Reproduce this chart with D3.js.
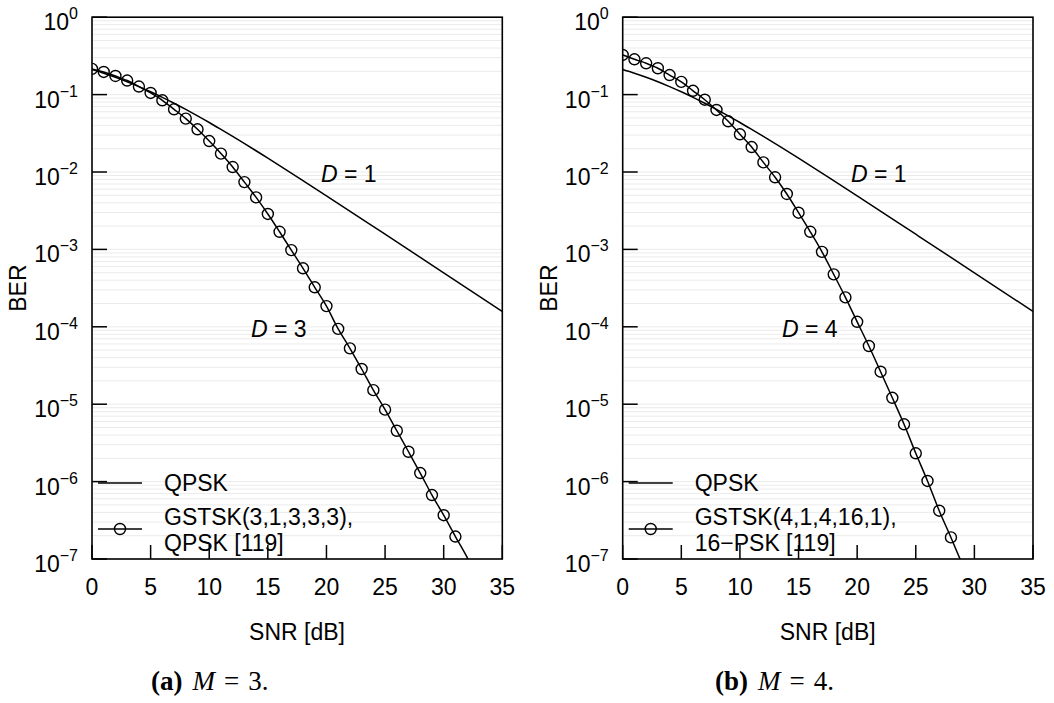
<!DOCTYPE html>
<html>
<head>
<meta charset="utf-8">
<script src="https://cdn.jsdelivr.net/npm/d3@7"></script>
<style>
  html, body { margin: 0; padding: 0; background: #fff; }
  svg { display: block; }
  text { font-family: "Liberation Sans", Arial, Helvetica, sans-serif; fill: #000; }
  .cap { font-family: "Liberation Serif", "Times New Roman", serif; }
</style>
</head>
<body>
<svg id="chart" width="1054" height="703"></svg>
<script>
// ---------------- data ----------------
const xTicks = [0, 5, 10, 15, 20, 25, 30, 35];
const yTickExps = [0, -1, -2, -3, -4, -5, -6, -7];

// QPSK (D = 1) reference curve, same in both panels
const qpskSnr = [0, 1, 2, 3, 4, 5, 6, 7, 8, 9, 10, 11, 12, 15, 17.5, 20, 25, 30, 35];
const qpskBer = [0.211, 0.189, 0.1675, 0.1467, 0.1269, 0.1087, 0.0921, 0.0773, 0.0643, 0.0531,
                 0.0436, 0.0355, 0.0288, 0.0151, 0.00866, 0.00493, 0.00157, 0.000499, 0.000158];

// Panel (a): GSTSK(3,1,3,3,3), QPSK [119]  (D = 3)
const gstskASnr = [0, 1, 2, 3, 4, 5, 6, 7, 8, 9, 10, 11, 12, 13, 14, 15, 16, 17, 18, 19, 20,
                   21, 22, 23, 24, 25, 26, 27, 28, 29, 30, 31];
const gstskABer = [0.215, 0.196, 0.174, 0.152, 0.127, 0.105, 0.0844, 0.0646, 0.049, 0.0356,
                   0.0251, 0.0173, 0.0116, 0.0074, 0.0047, 0.00287, 0.00169, 0.00098, 0.00057,
                   0.000324, 0.000185, 9.4e-5, 5.27e-5, 2.85e-5, 1.52e-5, 8.5e-6, 4.54e-6,
                   2.43e-6, 1.29e-6, 6.7e-7, 3.68e-7, 1.95e-7];
const gstskATailSnr = [32, 33];
const gstskATailBer = [1.05e-7, 5.4e-8];

// Panel (b): GSTSK(4,1,4,16,1), 16-PSK [119]  (D = 4)
const gstskBSnr = [0, 1, 2, 3, 4, 5, 6, 7, 8, 9, 10, 11, 12, 13, 14, 15, 16, 17, 18, 19, 20,
                   21, 22, 23, 24, 25, 26, 27, 28];
const gstskBBer = [0.325, 0.286, 0.254, 0.219, 0.179, 0.146, 0.112, 0.0859, 0.0633, 0.0452,
                   0.0307, 0.021, 0.0133, 0.00855, 0.0052, 0.00298, 0.00169, 0.00093, 0.000476,
                   0.00024, 0.000116, 5.65e-5, 2.63e-5, 1.21e-5, 5.5e-6, 2.32e-6, 1.02e-6,
                   4.21e-7, 1.9e-7];
const gstskBTailSnr = [29];
const gstskBTailBer = [8.3e-8];

const panels = [
  { id: "a", left: 92, snr: gstskASnr, ber: gstskABer, tailSnr: gstskATailSnr, tailBer: gstskATailBer,
    legend: ["GSTSK(3,1,3,3,3),", "QPSK [119]"], dLow: "3", caption: ["(a)", "M", "=", "3."],
    capX: 151, labD1: [321, 182], labD2: [251, 337] },
  { id: "b", left: 622.7, snr: gstskBSnr, ber: gstskBBer, tailSnr: gstskBTailSnr, tailBer: gstskBTailBer,
    legend: ["GSTSK(4,1,4,16,1),", "16\u2212PSK [119]"], dLow: "4", caption: ["(b)", "M", "=", "4."],
    capX: 715, labD1: [851, 182], labD2: [782, 337] }
];

// ---------------- drawing ----------------
const svg = d3.select("#chart");
const plotTop = 17.2, plotBottom = 559, plotW = 410.3;
const FS = 23;
const y = d3.scaleLog().domain([1e-7, 1]).range([plotBottom, plotTop]);

panels.forEach(p => {
  const x = d3.scaleLinear().domain([0, 35]).range([p.left, p.left + plotW]);
  const g = svg.append("g");

  // clip
  g.append("clipPath").attr("id", "clip" + p.id)
    .append("rect").attr("x", p.left).attr("y", plotTop).attr("width", plotW).attr("height", plotBottom - plotTop);

  // grid lines at every 1..9 x 10^k
  const gridVals = [];
  for (let e = -7; e < 0; e++) for (let m = 1; m <= 9; m++) gridVals.push(m * Math.pow(10, e));
  g.append("g").selectAll("line").data(gridVals).join("line")
    .attr("x1", p.left).attr("x2", p.left + plotW)
    .attr("y1", d => y(d)).attr("y2", d => y(d))
    .attr("stroke", "#ebebeb").attr("stroke-width", 1);

  // y ticks (inward, left side)
  g.append("g").selectAll("line").data(yTickExps).join("line")
    .attr("x1", p.left).attr("x2", p.left + 15)
    .attr("y1", d => y(Math.pow(10, d))).attr("y2", d => y(Math.pow(10, d)))
    .attr("stroke", "#000").attr("stroke-width", 1.5);
  // x ticks (inward, bottom)
  g.append("g").selectAll("line").data(xTicks).join("line")
    .attr("x1", d => x(d)).attr("x2", d => x(d))
    .attr("y1", plotBottom).attr("y2", plotBottom - 14)
    .attr("stroke", "#000").attr("stroke-width", 1.5);

  // y tick labels
  const yl = g.append("g").selectAll("text").data(yTickExps).join("text")
    .attr("x", p.left - 14).attr("y", d => y(Math.pow(10, d)) + 13)
    .attr("text-anchor", "end").attr("font-size", FS);
  yl.append("tspan").text("10");
  yl.append("tspan").attr("font-size", 16).attr("dy", -11)
    .text(d => d === 0 ? "0" : "\u2212" + Math.abs(d));

  // x tick labels
  g.append("g").selectAll("text").data(xTicks).join("text")
    .attr("x", d => x(d)).attr("y", 595)
    .attr("text-anchor", "middle").attr("font-size", FS)
    .text(d => d);

  // axis labels
  g.append("text").attr("transform", `translate(${p.left - 74},${(plotTop + plotBottom) / 2}) rotate(-90)`)
    .attr("text-anchor", "middle").attr("font-size", FS).attr("dy", "0.35em").text("BER");
  g.append("text").attr("x", p.left + 205).attr("y", 640)
    .attr("text-anchor", "middle").attr("font-size", FS).text("SNR [dB]");

  // curves
  const line = d3.line().x(d => x(d[0])).y(d => y(d[1])).curve(d3.curveMonotoneX);
  const cg = g.append("g").attr("clip-path", `url(#clip${p.id})`);
  cg.append("path").datum(qpskSnr.map((s, i) => [s, qpskBer[i]]))
    .attr("d", line).attr("fill", "none").attr("stroke", "#000").attr("stroke-width", 1.5);
  const gstskPts = p.snr.map((s, i) => [s, p.ber[i]])
    .concat(p.tailSnr.map((s, i) => [s, p.tailBer[i]]));
  cg.append("path").datum(gstskPts)
    .attr("d", line).attr("fill", "none").attr("stroke", "#000").attr("stroke-width", 1.5);
  cg.append("g").selectAll("circle").data(p.snr.map((s, i) => [s, p.ber[i]])).join("circle")
    .attr("cx", d => x(d[0])).attr("cy", d => y(d[1])).attr("r", 5.5)
    .attr("fill", "none").attr("stroke", "#000").attr("stroke-width", 1.4);

  // frame
  g.append("rect").attr("x", p.left).attr("y", plotTop).attr("width", plotW).attr("height", plotBottom - plotTop)
    .attr("fill", "none").attr("stroke", "#000").attr("stroke-width", 1.6);

  // annotations
  const a1 = g.append("text").attr("x", p.labD1[0]).attr("y", p.labD1[1]).attr("font-size", FS);
  a1.append("tspan").attr("font-style", "italic").text("D");
  a1.append("tspan").text(" = 1");
  const a2 = g.append("text").attr("x", p.labD2[0]).attr("y", p.labD2[1]).attr("font-size", FS);
  a2.append("tspan").attr("font-style", "italic").text("D");
  a2.append("tspan").text(" = " + p.dLow);

  // legend
  const lx = p.left + 6;
  g.append("line").attr("x1", lx).attr("x2", lx + 44).attr("y1", 483).attr("y2", 483)
    .attr("stroke", "#000").attr("stroke-width", 1.5);
  g.append("text").attr("x", p.left + 72).attr("y", 483).attr("dy", "0.35em").attr("font-size", FS).text("QPSK");
  g.append("line").attr("x1", lx).attr("x2", lx + 44).attr("y1", 529).attr("y2", 529)
    .attr("stroke", "#000").attr("stroke-width", 1.5);
  g.append("circle").attr("cx", lx + 22).attr("cy", 529).attr("r", 5.5)
    .attr("fill", "none").attr("stroke", "#000").attr("stroke-width", 1.4);
  g.append("text").attr("x", p.left + 72).attr("y", 517).attr("dy", "0.35em").attr("font-size", FS).text(p.legend[0]);
  g.append("text").attr("x", p.left + 72).attr("y", 543).attr("dy", "0.35em").attr("font-size", FS).text(p.legend[1]);

  // caption
  const c = g.append("text").attr("class", "cap").attr("x", p.capX).attr("y", 690)
    .attr("font-size", 27);
  c.append("tspan").attr("font-weight", "bold").text(p.caption[0]);
  c.append("tspan").attr("dx", 10).attr("font-style", "italic").text(p.caption[1]);
  c.append("tspan").attr("dx", 9).text(p.caption[2]);
  c.append("tspan").attr("dx", 9).text(p.caption[3]);
});
</script>
</body>
</html>
